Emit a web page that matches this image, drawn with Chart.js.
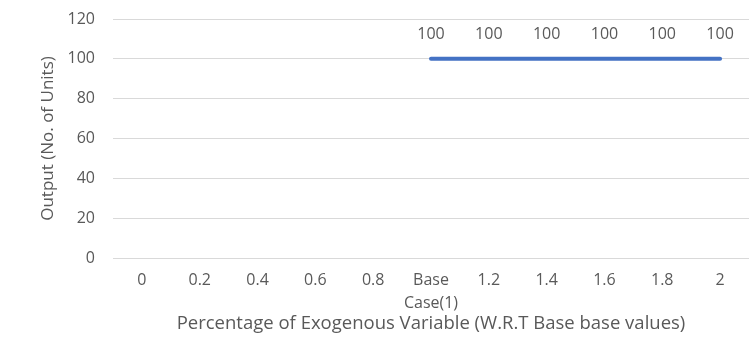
<!DOCTYPE html>
<html>
<head>
<meta charset="utf-8">
<script src="https://cdn.jsdelivr.net/npm/chart.js@4"></script>
<style>
  html, body { margin: 0; padding: 0; background: #fff; }
  #wrap { width: 753px; height: 343px; }
</style>
</head>
<body>
<div id="wrap"><canvas id="chart"></canvas></div>
<script>
var categories = ['0', '0.2', '0.4', '0.6', '0.8', ['Base', 'Case(1)'], '1.2', '1.4', '1.6', '1.8', '2'];
var output = [null, null, null, null, null, 100, 100, 100, 100, 100, 100];
var yTicks = [0, 20, 40, 60, 80, 100, 120];

var FONT = '"Open Sans", sans-serif';
var GREY = '#595959';

// writes the value above each point
var valueLabels = {
    id: 'valueLabels',
    afterDatasetsDraw: function(chart) {
        var ctx = chart.ctx;
        chart.data.datasets.forEach(function(ds, i) {
            var meta = chart.getDatasetMeta(i);
            meta.data.forEach(function(pt, j) {
                if (ds.data[j] === null) return;
                ctx.save();
                ctx.fillStyle = GREY;
                ctx.font = '16px ' + FONT;
                ctx.textAlign = 'center';
                ctx.textBaseline = 'middle';
                ctx.fillText(ds.data[j], pt.x, pt.y - 24);
                ctx.restore();
            });
        });
    }
};

var ctx = document.getElementById('chart').getContext('2d');
var myChart = new Chart(ctx, {
    type: 'line',
    data: {
        labels: categories,
        datasets: [{
            label: 'Output',
            data: output,
            borderColor: '#4472C4',
            borderWidth: 4,
            borderCapStyle: 'round',
            pointRadius: 0,
            fill: false
        }]
    },
    options: {
        maintainAspectRatio: false,
        responsive: true,
        animation: false,
        layout: { padding: { top: 0, right: 4, left: 38, bottom: 8 } },
        plugins: {
            legend: { display: false },
            tooltip: { enabled: false }
        },
        scales: {
            x: {
                offset: true,
                afterFit: function(scale) { scale.height = 77; },
                grid: { display: false, drawTicks: false },
                border: { display: false },
                ticks: {
                    color: GREY,
                    font: { family: FONT, size: 16, lineHeight: 1.44 },
                    maxRotation: 0,
                    autoSkip: false,
                    padding: 11
                },
                title: {
                    display: true,
                    text: 'Percentage of Exogenous Variable (W.R.T Base base values)',
                    color: GREY,
                    font: { family: FONT, size: 18.5 },
                    padding: { top: 0, bottom: 0 }
                }
            },
            y: {
                min: 0,
                max: 120,
                afterFit: function(scale) {
                    scale.width = 75;
                    scale.paddingTop = 19;  // top gridline sits at y=19
                },
                afterBuildTicks: function(axis) {
                    axis.ticks = yTicks.map(function(v) { return { value: v }; });
                },
                grid: { color: '#d9d9d9', drawTicks: false },
                border: { display: false },
                ticks: {
                    color: GREY,
                    font: { family: FONT, size: 16 },
                    padding: 18
                },
                title: {
                    display: true,
                    text: 'Output (No. of Units)',
                    color: GREY,
                    font: { family: FONT, size: 17 },
                    padding: { top: 0, bottom: 0 }
                }
            }
        }
    },
    plugins: [valueLabels]
});
</script>
</body>
</html>
